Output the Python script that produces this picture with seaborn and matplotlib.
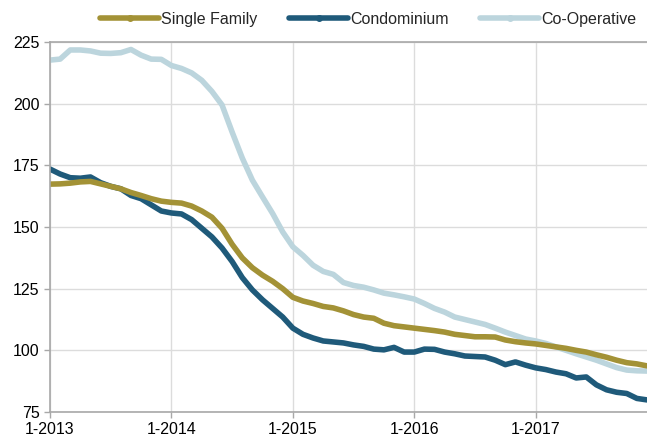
import numpy as np
import pandas as pd
import matplotlib
matplotlib.use('Agg')
import matplotlib.pyplot as plt
import seaborn as sns
from matplotlib.lines import Line2D

# monthly index values, 1-2013 .. 12-2017
single_family = [167.4, 167.5, 167.8, 168.3, 168.5, 167.5, 166.5, 165.5, 164.0, 162.8,
                 161.5, 160.5, 160.0, 159.7, 158.5, 156.5, 154.0, 149.5, 143.0, 137.5,
                 133.5, 130.5, 128.0, 125.0, 121.5, 120.0, 119.0, 117.8, 117.2, 116.0,
                 114.5, 113.5, 113.0, 111.0, 110.0, 109.5, 109.0, 108.5, 108.0, 107.4,
                 106.5, 106.0, 105.5, 105.5, 105.4, 104.2, 103.5, 103.0, 102.6, 102.0,
                 101.4, 100.8, 100.0, 99.3, 98.2, 97.2, 96.0, 95.0, 94.5, 93.7]
condominium = [173.5, 171.5, 170.0, 169.8, 170.3, 168.0, 166.5, 165.5, 162.8, 161.5,
               159.0, 156.5, 155.7, 155.3, 153.0, 149.5, 146.0, 141.5, 136.0, 129.5,
               124.5, 120.5, 117.0, 113.5, 109.0, 106.5, 105.0, 103.8, 103.4, 103.0,
               102.2, 101.6, 100.5, 100.2, 101.2, 99.3, 99.3, 100.5, 100.4, 99.3,
               98.6, 97.7, 97.5, 97.3, 96.0, 94.2, 95.3, 94.0, 92.9, 92.2,
               91.2, 90.5, 88.8, 89.2, 86.0, 84.0, 83.0, 82.5, 80.5, 79.9]
co_operative = [217.7, 218.1, 221.8, 221.8, 221.4, 220.5, 220.4, 220.7, 222.0, 219.7,
                218.1, 218.0, 215.5, 214.3, 212.5, 209.5, 205.0, 199.5, 188.5, 178.0,
                169.0, 162.2, 155.5, 148.0, 142.0, 138.5, 134.5, 132.0, 130.8, 127.5,
                126.3, 125.6, 124.5, 123.2, 122.5, 121.7, 120.8, 119.0, 117.0, 115.5,
                113.5, 112.5, 111.5, 110.5, 109.0, 107.4, 106.0, 104.6, 103.8, 102.8,
                101.4, 100.0, 98.6, 97.3, 96.0, 94.5, 93.0, 92.0, 91.7, 91.6]

series_names = ['Single Family', 'Condominium', 'Co-Operative']
series_colors = ['#a39236', '#1f5a7a', '#bcd5dd']
tick_labels = ['1-2013', '1-2014', '1-2015', '1-2016', '1-2017']

months = np.arange(len(single_family))
df = pd.DataFrame({'month': months,
                   'Single Family': single_family,
                   'Condominium': condominium,
                   'Co-Operative': co_operative})

sns.set_style('white')
plt.rcParams['font.family'] = ['Liberation Sans', 'DejaVu Sans']

fig = plt.figure(figsize=(6.47, 4.43), dpi=100)
ax = fig.add_axes([0.0773, 0.070, 0.9227, 0.835])

# co-op first so it sits behind the others
for name, color in zip(series_names[::-1], series_colors[::-1]):
    sns.lineplot(x='month', y=name, data=df, color=color, lw=4.0, ax=ax,
                 solid_capstyle='round', solid_joinstyle='round')

ax.set_xlim(0, 59)
ax.set_ylim(75, 225)
ax.set_yticks([75, 100, 125, 150, 175, 200, 225])
ax.set_xticks([0, 12, 24, 36, 48])
ax.set_xticklabels(tick_labels)
ax.set_xlabel('')
ax.set_ylabel('')
ax.grid(True, color='#dcdcdc', lw=1.0)
ax.set_axisbelow(True)
for side in ['left', 'bottom', 'top']:
    ax.spines[side].set_color('#a8a8a8')
    ax.spines[side].set_linewidth(1.2)
ax.spines['right'].set_visible(False)
ax.tick_params(axis='both', labelsize=11.5, colors='#a8a8a8', labelcolor='black',
               length=4, width=1.0, direction='out', bottom=True, left=True)
ax.tick_params(axis='x', pad=3)

handles = [Line2D([0], [0], color=c, lw=4.0, marker='o', markersize=4,
                  markerfacecolor=c, markeredgecolor=c) for c in series_colors]
fig.legend(handles, series_names, loc='center right', bbox_to_anchor=(0.993, 0.957),
           ncol=3, frameon=False, fontsize=11.5, handlelength=3.7, handletextpad=0.1,
           columnspacing=2.0, borderaxespad=0)

fig.savefig('out.png', dpi=100)
